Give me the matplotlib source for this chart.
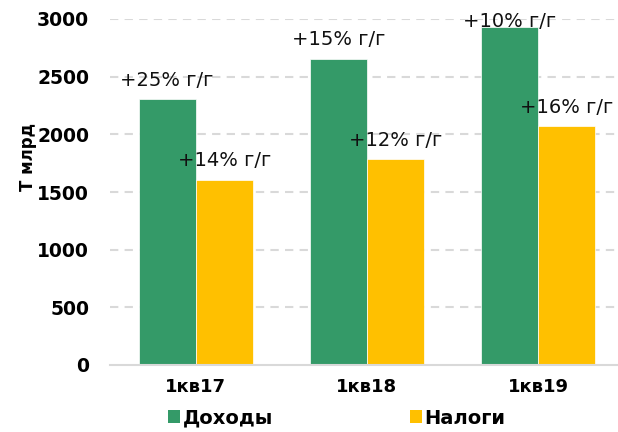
import matplotlib
matplotlib.use("Agg")
import matplotlib.pyplot as plt
from matplotlib.patches import Patch
import numpy as np

categories = ["1кв17", "1кв18", "1кв19"]
series_names = ["Доходы", "Налоги"]
dohody = [2305, 2655, 2930]
nalogi = [1605, 1785, 2070]
dohody_labels = ["+25% г/г", "+15% г/г", "+10% г/г"]
nalogi_labels = ["+14% г/г", "+12% г/г", "+16% г/г"]
y_ticks = [0, 500, 1000, 1500, 2000, 2500, 3000]

GREEN = "#349A68"
YELLOW = "#FFC000"
GRID = "#D9D9D9"

plt.rcParams["font.family"] = ["DejaVu Sans"]

fig = plt.figure(figsize=(6.18, 4.32), dpi=100)
ax = fig.add_axes([110 / 618, (432 - 365) / 432, (624 - 110) / 618, (365 - 19) / 432])

x = np.arange(len(categories))
w = 1 / 3
b1 = ax.bar(x - w / 2, dohody, w, color=GREEN, edgecolor="white", linewidth=0.5, zorder=3)
b2 = ax.bar(x + w / 2, nalogi, w, color=YELLOW, edgecolor="white", linewidth=0.5, zorder=3)

ax.set_xlim(-0.5, len(categories) - 0.5)
ax.set_ylim(0, 3000)
ax.set_yticks(y_ticks)
ax.set_yticklabels([str(t) for t in y_ticks], fontsize=13.5, fontweight="bold")
ax.set_xticks(x)
ax.set_xticklabels(categories, fontsize=13, fontweight="bold")
ax.tick_params(axis="both", length=0)
ax.tick_params(axis="y", pad=15)
ax.tick_params(axis="x", pad=9)

for t in y_ticks[1:]:
    ax.axhline(t, color=GRID, linewidth=1.5, linestyle=(0, (4, 3)), zorder=1)

for s in ["top", "right", "left"]:
    ax.spines[s].set_visible(False)
ax.spines["bottom"].set_color(GRID)
ax.spines["bottom"].set_linewidth(1.5)
ax.spines["bottom"].set_zorder(4)

ylim_top = ax.get_ylim()[1]
offset = 165
for bars, vals, labs in [(b1, dohody, dohody_labels), (b2, nalogi, nalogi_labels)]:
    for bar, v, lab in zip(bars, vals, labs):
        ty = min(v + offset, ylim_top - 25)
        ax.text(bar.get_x() + bar.get_width() / 2, ty, lab, ha="center", va="center",
                fontsize=14, color="#111111", zorder=5, clip_on=False)

ax.set_ylabel("Т млрд", fontsize=12, fontweight="bold")
ax.yaxis.set_label_coords(-0.142, 0.6)

handles = [Patch(facecolor=GREEN), Patch(facecolor=YELLOW)]
leg = fig.legend(handles, series_names, loc="center", bbox_to_anchor=(337 / 618, 14 / 432),
                 ncol=2, frameon=False, handlelength=0.62, handleheight=0.62,
                 handletextpad=0.15, columnspacing=7.0,
                 prop={"size": 14, "weight": "bold"})

fig.savefig("out.png", dpi=100)
